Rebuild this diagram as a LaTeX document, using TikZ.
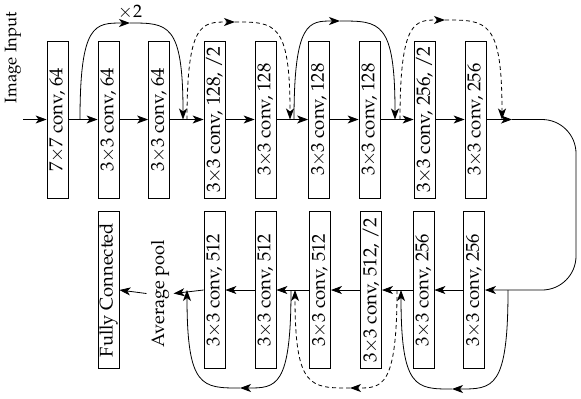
\documentclass[tikz,border=0pt]{standalone}
\usepackage[T1]{fontenc}
\usepackage{mathpazo}
\usetikzlibrary{arrows.meta}
\newcommand{\tx}{\kern-0.4pt$\times$\kern-0.4pt}
\newcommand{\rtxt}[2]{\rotatebox{90}{\resizebox{#1}{!}{#2}}}
\begin{document}
\begin{tikzpicture}[x=0.5pt,y=-0.5pt,
  box/.style={draw, line width=0.4pt, inner sep=0pt, minimum width=10.5pt, minimum height=78.5pt, font=\fontsize{9}{11}\selectfont},
  arr/.style={-{Stealth[length=5.5pt,width=4pt,inset=1.5pt]}, line width=0.4pt},
  dsh/.style={dash pattern=on 2pt off 1.5pt},
  lbl/.style={inner sep=2pt, font=\fontsize{9}{11}\selectfont}]
\useasboundingbox (0,0) rectangle (581,398);
% top row
\node[box] (t1) at (57.5,119.5) {\rtxt{51.5pt}{7\tx7 conv, 64}};
\node[box] (t2) at (108.5,119.5) {\rtxt{51.5pt}{3\tx3 conv, 64}};
\node[box] (t3) at (159,119.5) {\rtxt{51.5pt}{3\tx3 conv, 64}};
\node[box] (t4) at (214.5,119.5) {\rtxt{73pt}{3\tx3 conv, 128, /2}};
\node[box] (t5) at (265.5,119.5) {\rtxt{56pt}{3\tx3 conv, 128}};
\node[box] (t6) at (319,119.5) {\rtxt{56pt}{3\tx3 conv, 128}};
\node[box] (t7) at (369.5,119.5) {\rtxt{56pt}{3\tx3 conv, 128}};
\node[box] (t8) at (424.5,119.5) {\rtxt{73pt}{3\tx3 conv, 256, /2}};
\node[box] (t9) at (475.5,119.5) {\rtxt{56pt}{3\tx3 conv, 256}};
% bottom row
\node[box] (b0) at (108.5,290) {\rtxt{67pt}{Fully Connected}};
\node[box] (b1) at (214.5,290) {\rtxt{56pt}{3\tx3 conv, 512}};
\node[box] (b2) at (265.5,290) {\rtxt{56pt}{3\tx3 conv, 512}};
\node[box] (b3) at (320,290) {\rtxt{56pt}{3\tx3 conv, 512}};
\node[box] (b4) at (371,290) {\rtxt{72pt}{3\tx3 conv, 512, /2}};
\node[box] (b5) at (423.5,290) {\rtxt{56pt}{3\tx3 conv, 256}};
\node[box] (b6) at (474,290) {\rtxt{56pt}{3\tx3 conv, 256}};
% labels
\node[lbl] (inp) at (13,57.5) {\rtxt{45.5pt}{Image Input}};
\node[lbl] (avg) at (160,293.5) {\rtxt{53.5pt}{Average pool}};
\node[lbl] (x2) at (130,12) {$\times$2};
% main flow top
\coordinate (in0) at (23,119.5);
\draw[arr] (in0) -- (t1.west);
\draw[arr] (t1.east) -- (t2.west);
\draw[arr] (t2.east) -- (t3.west);
\draw[arr] (t3.east) -- (t4.west);
\draw[arr] (t4.east) -- (t5.west);
\draw[arr] (t5.east) -- (t6.west);
\draw[arr] (t6.east) -- (t7.west);
\draw[arr] (t7.east) -- (t8.west);
\draw[arr] (t8.east) -- (t9.west);
\coordinate (r1) at (512,119.5);
\draw[arr] (t9.east) -- (r1);
\draw[arr, rounded corners=17pt] (r1) -- (576,119.5) -- (576,290) -- (b6.east);
% main flow bottom
\draw[arr] (b6.west) -- (b5.east);
\draw[arr] (b5.west) -- (b4.east);
\draw[arr] (b4.west) -- (b3.east);
\draw[arr] (b3.west) -- (b2.east);
\draw[arr] (b2.west) -- (b1.east);
\draw[arr] (b1.west) -- (avg.east);
\draw[arr] (avg.west) -- (b0.east);
% top skip arcs
\coordinate (s1) at (80,119.5);  \coordinate (m1) at (130,23); \coordinate (e1) at (183,119.5);
\coordinate (s2) at (187,119.5); \coordinate (m2) at (235,22); \coordinate (e2) at (290,119.5);
\coordinate (s3) at (294,119.5); \coordinate (m3) at (340,21); \coordinate (e3) at (395,119.5);
\coordinate (s4) at (400,119.5); \coordinate (m4) at (445,20); \coordinate (e4) at (502,119.5);
\draw[arr] (s1) .. controls (80,23) and (95,23) .. (m1);
\draw[arr] (m1) .. controls (168,23) and (183,23) .. (e1);
\draw[arr,dsh] (s2) .. controls (187,22) and (202,22) .. (m2);
\draw[arr,dsh] (m2) .. controls (275,22) and (290,22) .. (e2);
\draw[arr] (s3) .. controls (294,21) and (309,21) .. (m3);
\draw[arr] (m3) .. controls (380,21) and (395,21) .. (e3);
\draw[arr,dsh] (s4) .. controls (400,20) and (415,20) .. (m4);
\draw[arr,dsh] (m4) .. controls (487,20) and (502,20) .. (e4);
% bottom skip arcs
\coordinate (sA) at (508,290); \coordinate (mA) at (452,389); \coordinate (eA) at (401,290);
\coordinate (sB) at (397,290); \coordinate (mB) at (350,388); \coordinate (eB) at (295,290);
\coordinate (sC) at (291,290); \coordinate (mC) at (240,388); \coordinate (eC) at (187,290);
\draw[arr] (sA) .. controls (508,389) and (493,389) .. (mA);
\draw[arr] (mA) .. controls (416,389) and (401,389) .. (eA);
\draw[arr,dsh] (sB) .. controls (397,388) and (382,388) .. (mB);
\draw[arr,dsh] (mB) .. controls (310,388) and (295,388) .. (eB);
\draw[arr] (sC) .. controls (291,388) and (276,388) .. (mC);
\draw[arr] (mC) .. controls (202,388) and (187,388) .. (eC);
\end{tikzpicture}
\end{document}
